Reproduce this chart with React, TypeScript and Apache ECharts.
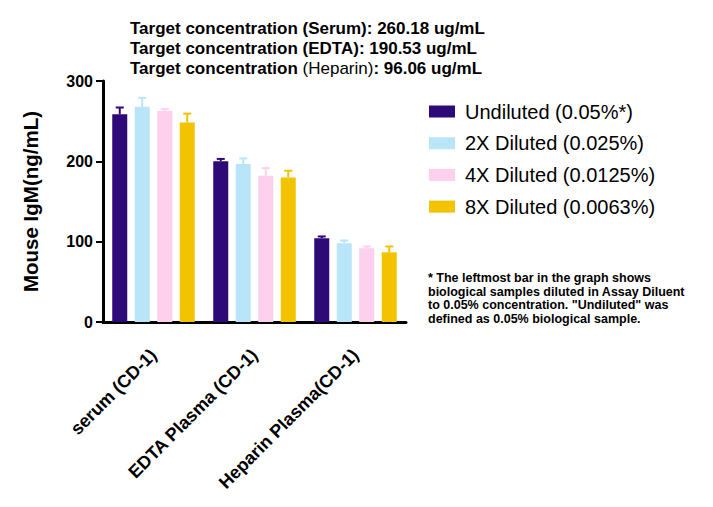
import React, { useEffect, useRef } from "react";
import * as echarts from "echarts";

const categories = ["serum (CD-1)", "EDTA Plasma (CD-1)", "Heparin Plasma(CD-1)"];
const seriesNames = [
  "Undiluted (0.05%*)",
  "2X Diluted (0.025%)",
  "4X Diluted (0.0125%)",
  "8X Diluted (0.0063%)",
];
const colors = ["#2d0a78", "#b9e5f9", "#fdd0ee", "#f3c300"];

const undiluted = [258.7, 200.0, 104.3];
const undilutedUpper = [267.0, 203.0, 106.5];
const diluted2x = [267.8, 196.6, 98.0];
const diluted2xUpper = [279.0, 203.6, 101.4];
const diluted4x = [262.8, 182.0, 91.9];
const diluted4xUpper = [265.0, 191.6, 94.0];
const diluted8x = [248.3, 180.0, 86.9];
const diluted8xUpper = [259.4, 188.3, 94.0];

const yTicks = [0, 100, 200, 300];

const titleLines = [
  "Target concentration (Serum): 260.18 ug/mL",
  "Target concentration (EDTA): 190.53 ug/mL",
];
const titleLast = ["Target concentration ", "(Heparin)", ": 96.06 ug/mL"];
const footnote = [
  "* The leftmost bar in the graph shows",
  "biological samples diluted in Assay Diluent",
  "to 0.05% concentration. \"Undiluted\" was",
  "defined as 0.05% biological sample.",
];

const FONT = "'Liberation Sans', Arial, Helvetica, sans-serif";

export default function App() {
  const ref = useRef<HTMLDivElement>(null);
  useEffect(() => {
    if (!ref.current) return;
    const chart = echarts.init(ref.current, undefined, { renderer: "svg" });
    const values = [undiluted, diluted2x, diluted4x, diluted8x];
    const uppers = [undilutedUpper, diluted2xUpper, diluted4xUpper, diluted8xUpper];
    const barWidth = 15;
    const pitch = barWidth * 1.5;

    const bars = values.map((vals, i) => ({
      name: seriesNames[i],
      type: "bar",
      data: vals,
      barWidth,
      barGap: "50%",
      itemStyle: { color: colors[i] },
      z: 2,
    }));
    const errs = values.map((vals, i) => ({
      name: "err" + i,
      type: "custom",
      data: vals.map((v, j) => [j, v, uppers[i][j]]),
      z: 3,
      renderItem: (params: any, api: any) => {
        const cat = api.value(0);
        const base = api.coord([cat, api.value(1)]);
        const top = api.coord([cat, api.value(2)]);
        const x = base[0] + (i - 1.5) * pitch;
        const st = { stroke: colors[i], lineWidth: 2 };
        return {
          type: "group",
          children: [
            { type: "line", shape: { x1: x, y1: base[1], x2: x, y2: top[1] }, style: st },
            { type: "line", shape: { x1: x - 4, y1: top[1], x2: x + 4, y2: top[1] }, style: st },
          ],
        };
      },
    }));

    const titleText =
      titleLines.map((l) => `{b|${l}}`).join("\n") +
      `\n{b|${titleLast[0]}}{n|${titleLast[1]}}{b|${titleLast[2]}}`;

    chart.setOption({
      animation: false,
      textStyle: { fontFamily: FONT },
      grid: { left: 103, right: 307, top: 81, bottom: 185, containLabel: false },
      legend: {
        orient: "vertical",
        left: 424,
        top: 96.5,
        data: seriesNames,
        icon: "rect",
        itemWidth: 26,
        itemHeight: 12,
        itemGap: 11.7,
        selectedMode: false,
        textStyle: {
          fontFamily: FONT,
          fontSize: 20,
          lineHeight: 20,
          color: "#000",
          padding: [0, 0, 0, 5],
        },
      },
      xAxis: {
        type: "category",
        data: categories,
        axisLine: { lineStyle: { color: "#000", width: 3 } },
        axisTick: { alignWithLabel: true, length: 5, lineStyle: { color: "#000", width: 2 } },
        axisLabel: {
          rotate: 45,
          margin: 30,
          color: "#000",
          fontWeight: "bold",
          fontSize: 18,
          fontFamily: FONT,
          interval: 0,
        },
      },
      yAxis: {
        type: "value",
        min: yTicks[0],
        max: yTicks[yTicks.length - 1],
        interval: 100,
        name: "Mouse IgM(ng/mL)",
        nameLocation: "middle",
        nameRotate: 90,
        nameGap: 62,
        nameTextStyle: { color: "#000", fontWeight: "bold", fontSize: 20.5, fontFamily: FONT },
        splitLine: { show: false },
        axisLine: { show: true, lineStyle: { color: "#000", width: 3 } },
        axisTick: { show: true, length: 7, lineStyle: { color: "#000", width: 2 } },
        axisLabel: { color: "#000", fontWeight: "bold", fontSize: 16, margin: 10, fontFamily: FONT },
      },
      graphic: [
        {
          type: "text",
          left: 130,
          top: 19.5,
          style: {
            text: titleText,
            rich: {
              b: { fontFamily: FONT, fontSize: 17, fontWeight: "bold", lineHeight: 20, fill: "#000" },
              n: { fontFamily: FONT, fontSize: 17, fontWeight: "normal", lineHeight: 20, fill: "#000" },
            },
          },
        },
        {
          type: "text",
          left: 428,
          top: 271.3,
          style: {
            text: footnote.join("\n"),
            fontFamily: FONT,
            fontSize: 12.5,
            fontWeight: "bold",
            lineHeight: 13.5,
            fill: "#000",
          },
        },
      ],
      series: [...bars, ...errs],
    });
    return () => chart.dispose();
  }, []);
  return (
    <div
      ref={ref}
      style={{ position: "fixed", left: 0, top: 0, width: 713, height: 507, background: "#fff" }}
    />
  );
}
